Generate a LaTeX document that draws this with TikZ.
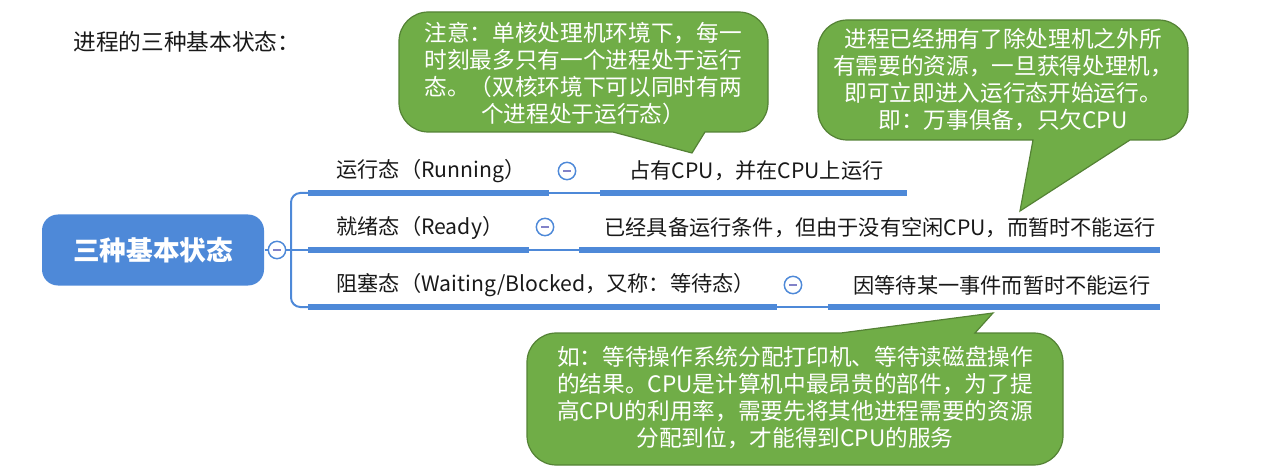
\documentclass[tikz,border=0pt]{standalone}
\usepackage{fontspec}
\newfontfamily\cjk{Noto Sans CJK SC}
\definecolor{mapblue}{RGB}{78,137,216}
\definecolor{notegreen}{RGB}{112,173,71}
\definecolor{noteedge}{RGB}{84,130,53}
\definecolor{foldmark}{RGB}{130,130,200}
\definecolor{inktext}{RGB}{25,25,25}
\tikzset{every picture/.style={line width=0.75pt}}
\tikzset{
  rootbox/.style={fill=mapblue, rounded corners=12pt, minimum width=166.5pt, minimum height=53.25pt, inner sep=0pt, text=white, font=\cjk\bfseries\fontsize{20}{24}\selectfont},
  fold/.style={circle, draw=mapblue, line width=1.1pt, fill=white, minimum size=13pt, inner sep=0pt,
    path picture={\draw[foldmark, line width=1pt] ([xshift=-3pt]path picture bounding box.center) -- ([xshift=3pt]path picture bounding box.center);}},
  lbl/.style={anchor=west, inner sep=0.75pt, text=inktext, font=\cjk\fontsize{15.9}{18}\selectfont},
  uline/.style={draw=mapblue, line width=4pt},
  twig/.style={draw=mapblue, line width=1.5pt},
  callout/.style={fill=notegreen, draw=noteedge, line width=0.9pt},
  notetext/.style={text=white, align=center, inner sep=0pt, font=\cjk\fontsize{17}{20.25}\selectfont},
}
\begin{document}
\begin{tikzpicture}[x=0.75pt,y=0.75pt,yscale=-1,xscale=1]
\path[use as bounding box] (0,0) rectangle (1275,474); %set diagram 1275 x 474

% Text Node
\node[lbl, font=\cjk\fontsize{17}{20}\selectfont] (title) at (72,42) {进程的三种基本状态：};

%Shape: Rounded Rectangle
\node[rootbox] (root) at (153,250) {三种基本状态};
\node[fold] (rootfold) at (277,250) {};

%Branch coordinates
\coordinate (fork) at (291,250);
\coordinate (run-a) at (308,193);
\coordinate (run-b) at (549,193);
\coordinate (run-c) at (600,193);
\coordinate (run-e) at (907,193);
\coordinate (ready-a) at (308,250);
\coordinate (ready-b) at (529,250);
\coordinate (ready-c) at (579,250);
\coordinate (ready-e) at (1160,250);
\coordinate (block-a) at (308,307);
\coordinate (block-b) at (777,307);
\coordinate (block-c) at (828,307);
\coordinate (block-e) at (1160,307);

%Straight Lines
\draw[twig] (root.east) -- (rootfold.west);
\draw[twig] (rootfold.east) -- (ready-a);
\draw[twig, rounded corners=7pt] (run-a) -| (fork) |- (block-a);

% Running
\node[lbl] (run) at (335,171) {运行态（Running）};
\node[fold] (run-fold) at (567,171) {};
\node[lbl] (run-d) at (628,171) {占有CPU，并在CPU上运行};
\draw[uline] (run-a) -- (run-b);
\draw[twig] (run-b) -- (run-c);
\draw[uline] (run-c) -- (run-e);

% Ready
\node[lbl] (ready) at (335,228) {就绪态（Ready）};
\node[fold] (ready-fold) at (545,227) {};
\node[lbl] (ready-d) at (603,228) {已经具备运行条件，但由于没有空闲CPU，而暂时不能运行};
\draw[uline] (ready-a) -- (ready-b);
\draw[twig] (ready-b) -- (ready-c);
\draw[uline] (ready-c) -- (ready-e);

% Blocked
\node[lbl] (block) at (335,285) {阻塞态（Waiting/Blocked，又称：等待态）};
\node[fold] (block-fold) at (793,285) {};
\node[lbl] (block-d) at (852,285) {因等待某一事件而暂时不能运行};
\draw[uline] (block-a) -- (block-b);
\draw[twig] (block-b) -- (block-c);
\draw[uline] (block-c) -- (block-e);

%Shape: Callout
\draw[callout] (560,12) [rounded corners=22] -- (768,12) -- (768,132) [sharp corners] -- (705,132) -- (692,153) -- (613,132) [rounded corners=22] -- (399,132) -- (399,12) -- cycle;
% Text Node
\node[notetext] (runnote) at (583,73) {注意：单核处理机环境下，每一\\时刻最多只有一个进程处于运行\\态。（双核环境下可以同时有两\\个进程处于运行态）};

%Shape: Callout
\draw[callout] (1000,20) [rounded corners=22] -- (1188,20) -- (1188,140) [sharp corners] -- (1130,140) -- (1020,211) -- (1033,140) [rounded corners=22] -- (818,140) -- (818,20) -- cycle;
% Text Node
\node[notetext] (readynote) at (1003,80) {进程已经拥有了除处理机之外所\\有需要的资源，一旦获得处理机，\\即可立即进入运行态开始运行。\\即：万事俱备，只欠CPU};

%Shape: Callout
\draw[callout] (800,465) [rounded corners=22] -- (527,465) -- (527,333) [sharp corners] -- (841,333) -- (993,313) -- (975,333) [rounded corners=22] -- (1063,333) -- (1063,465) -- cycle;
% Text Node
\node[notetext] (blocknote) at (795,398) {如：等待操作系统分配打印机、等待读磁盘操作\\的结果。CPU是计算机中最昂贵的部件，为了提\\高CPU的利用率，需要先将其他进程需要的资源\\分配到位，才能得到CPU的服务};

\end{tikzpicture}
\end{document}
